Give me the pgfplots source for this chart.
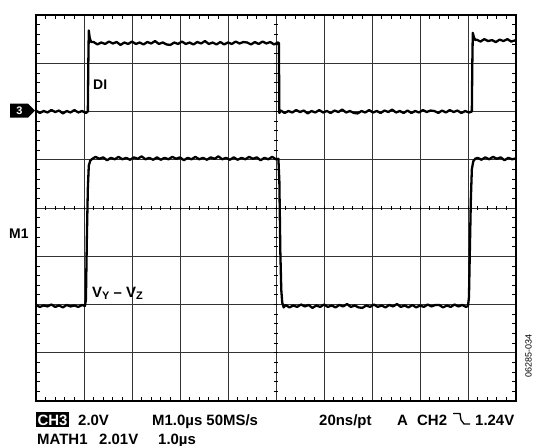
\documentclass[border=0pt]{standalone}
\usepackage{pgfplots}
\pgfplotsset{compat=1.18}
\usepackage{pgfplotstable}
\usepackage{fontspec}
\setmainfont{Liberation Sans}

\newcommand\lbl{\fontsize{15}{18}\selectfont\bfseries}

% CH3: DI logic input (divisions)
\pgfplotstableread{
x y
0.00 2.02
0.08 1.97
0.16 2.01
0.24 1.98
0.32 2.03
0.40 1.99
0.48 2.02
0.56 1.96
0.64 2.01
0.72 1.98
0.80 2.03
0.88 1.98
0.96 2.01
1.04 1.97
1.08 2.00
1.09 3.00
1.10 3.68
1.12 3.52
1.15 3.44
1.20 3.44
1.28 3.39
1.36 3.43
1.44 3.40
1.52 3.45
1.60 3.41
1.68 3.44
1.76 3.38
1.84 3.43
1.92 3.40
2.00 3.45
2.08 3.40
2.16 3.43
2.24 3.39
2.32 3.44
2.40 3.41
2.48 3.46
2.56 3.40
2.64 3.43
2.72 3.39
2.80 3.38
2.88 3.43
2.96 3.40
3.04 3.45
3.12 3.40
3.20 3.43
3.28 3.39
3.36 3.44
3.44 3.41
3.52 3.46
3.60 3.40
3.68 3.43
3.76 3.39
3.84 3.44
3.92 3.39
4.00 3.43
4.08 3.40
4.16 3.45
4.24 3.41
4.32 3.44
4.40 3.43
4.48 3.39
4.56 3.44
4.64 3.40
4.72 3.45
4.80 3.41
4.88 3.44
4.96 3.39
5.04 3.43
5.06 3.42
5.07 1.97
5.10 2.02
5.18 1.97
5.26 2.01
5.34 1.98
5.42 2.03
5.50 1.99
5.58 2.02
5.66 1.96
5.74 2.01
5.82 1.98
5.90 2.03
5.98 1.98
6.06 2.01
6.14 1.97
6.22 2.02
6.30 1.99
6.38 2.04
6.46 1.98
6.54 2.01
6.62 1.97
6.70 1.96
6.78 2.01
6.86 1.98
6.94 2.03
7.02 1.98
7.10 2.01
7.18 1.97
7.26 2.02
7.34 1.99
7.42 2.04
7.50 1.98
7.58 2.01
7.66 1.97
7.74 2.02
7.82 1.97
7.90 2.01
7.98 1.98
8.06 2.03
8.14 1.99
8.22 2.02
8.30 2.01
8.38 1.97
8.46 2.02
8.54 1.98
8.62 2.03
8.70 1.99
8.78 2.02
8.86 1.97
8.94 2.01
9.02 1.98
9.08 2.00
9.09 3.00
9.10 3.63
9.12 3.55
9.15 3.48
9.18 3.49
9.26 3.45
9.34 3.50
9.42 3.46
9.50 3.48
9.58 3.44
9.66 3.49
9.74 3.46
9.82 3.50
9.90 3.45
10.00 3.48
}\ditrace

% MATH1: differential output VY - VZ (divisions)
\pgfplotstableread{
x y
0.00 -2.01
0.08 -2.05
0.16 -2.02
0.24 -2.04
0.32 -2.00
0.40 -2.05
0.48 -2.02
0.56 -2.06
0.64 -2.01
0.72 -2.04
0.80 -2.02
0.88 -2.05
0.96 -2.01
1.02 -2.03
1.04 -1.90
1.06 -0.60
1.08 0.40
1.10 0.88
1.13 0.98
1.16 1.01
1.24 1.06
1.32 1.02
1.40 1.05
1.48 0.99
1.56 1.04
1.64 1.01
1.72 1.06
1.80 1.01
1.88 1.04
1.96 1.00
2.04 1.05
2.12 1.02
2.20 1.07
2.28 1.01
2.36 1.04
2.44 1.00
2.52 1.05
2.60 1.00
2.68 1.04
2.76 1.01
2.84 1.06
2.92 1.02
3.00 1.05
3.08 0.99
3.16 1.04
3.24 1.01
3.32 1.06
3.40 1.01
3.48 1.04
3.56 1.00
3.64 1.05
3.72 1.02
3.80 1.07
3.88 1.01
3.96 1.04
4.04 1.00
4.12 1.05
4.20 1.00
4.28 1.04
4.36 1.01
4.44 1.06
4.52 1.02
4.60 1.05
4.68 0.99
4.76 1.04
4.84 1.01
4.92 1.06
5.00 1.01
5.05 1.02
5.07 0.55
5.09 -0.90
5.11 -1.70
5.13 -1.96
5.16 -2.06
5.20 -2.01
5.28 -2.06
5.36 -2.02
5.44 -2.05
5.52 -2.00
5.60 -2.04
5.68 -2.01
5.76 -2.07
5.84 -2.02
5.92 -2.05
6.00 -2.00
6.08 -2.05
6.16 -2.02
6.24 -2.06
6.32 -2.01
6.40 -2.04
6.48 -1.99
6.56 -2.05
6.64 -2.02
6.72 -2.06
6.80 -2.07
6.88 -2.02
6.96 -2.05
7.04 -2.00
7.12 -2.05
7.20 -2.02
7.28 -2.06
7.36 -2.01
7.44 -2.04
7.52 -1.99
7.60 -2.05
7.68 -2.02
7.76 -2.06
7.84 -2.01
7.92 -2.06
8.00 -2.02
8.08 -2.05
8.16 -2.00
8.24 -2.04
8.32 -2.01
8.40 -2.01
8.48 -2.06
8.56 -2.02
8.64 -2.05
8.72 -2.00
8.80 -2.04
8.88 -2.01
8.96 -2.05
9.00 -2.03
9.02 -1.85
9.04 -0.80
9.06 0.20
9.08 0.80
9.11 0.97
9.15 1.02
9.20 1.04
9.28 1.00
9.36 1.05
9.44 1.01
9.52 1.06
9.60 1.02
9.68 1.05
9.76 0.99
9.84 1.04
9.92 1.01
10.00 1.03
}\mathtrace

\begin{document}
\begin{tikzpicture}
\path[use as bounding box] (0,0) rectangle (539bp,-446bp);
\begin{axis}[
  at={(36bp,-401bp)}, anchor=south west,
  scale only axis, width=480bp, height=386bp,
  xmin=0, xmax=10, ymin=-4, ymax=4,
  xtick={0,...,10}, ytick={-4,...,4},
  xticklabels={}, yticklabels={},
  minor x tick num=4, minor y tick num=4,
  tick align=inside,
  major tick length=0pt, minor tick length=4bp,
  minor tick style={black, line width=0.8bp},
  grid=major,
  major grid style={black!80, line width=1bp},
  axis line style={black, line width=1.8bp},
  clip=false,
]
% graticule centre lines carry fine ticks
\pgfplotsinvokeforeach{1,...,49}{
  \draw[line width=0.8bp] (axis cs:{0.2*#1},-0.045) -- (axis cs:{0.2*#1},0.045);
}
\pgfplotsinvokeforeach{1,...,39}{
  \draw[line width=0.8bp] (axis cs:4.955,{-4+0.2*#1}) -- (axis cs:5.045,{-4+0.2*#1});
}
\addplot[black, line width=2.3bp, line join=round, mark=none] table {\ditrace};
\addplot[black, line width=2.3bp, line join=round, mark=none] table {\mathtrace};
\end{axis}

\begin{scope}[x=1bp, y=-1bp]
  % channel markers
  \fill (10,103.5) -- (28,103.5) -- (35,110.5) -- (28,117.5) -- (10,117.5) -- cycle;
  \node[white, inner sep=0, font=\fontsize{11}{12}\selectfont\bfseries] at (19.5,110.5) {3};
  \node[anchor=west, inner sep=0, font=\fontsize{14}{16}\selectfont\bfseries] at (9,233.5) {M1};
  % trace labels
  \node[anchor=west, inner sep=0, font=\fontsize{14}{16}\selectfont\bfseries] at (93,85) {DI};
  \node[anchor=base west, inner sep=0, font=\fontsize{15}{18}\selectfont\bfseries] at (92,297)
    {V\raisebox{-0.3ex}{\fontsize{11}{12}\selectfont\bfseries Y} – V\raisebox{-0.3ex}{\fontsize{11}{12}\selectfont\bfseries Z}};
  % readout line 1
  \fill (36,411.5) rectangle (69,426.5);
  \node[anchor=base, white, inner sep=0, font=\lbl] at (52.5,425) {CH3};
  \node[anchor=base west, inner sep=0, font=\lbl] at (78,425) {2.0V};
  \node[anchor=base west, inner sep=0, font=\lbl] at (152,425) {M1.0µs 50MS/s};
  \node[anchor=base west, inner sep=0, font=\lbl] at (319,425) {20ns/pt};
  \node[anchor=base west, inner sep=0, font=\lbl] at (397,425) {A};
  \node[anchor=base west, inner sep=0, font=\lbl] at (417,425) {CH2};
  \draw[line width=1.3bp] (453,413.5) -- (460,413.5) -- (461,420) -- (464,424) -- (470,424);
  \node[anchor=base west, inner sep=0, font=\lbl] at (475,425) {1.24V};
  % readout line 2
  \node[anchor=base west, inner sep=0, font=\lbl] at (37,444) {MATH1};
  \node[anchor=base west, inner sep=0, font=\lbl] at (99,444) {2.01V};
  \node[anchor=base west, inner sep=0, font=\lbl] at (158,444) {1.0µs};
  % figure number
  \node[rotate=90, inner sep=0, font=\fontsize{9}{10}\selectfont] at (528.5,356) {06285-034};
\end{scope}
\end{tikzpicture}
\end{document}
